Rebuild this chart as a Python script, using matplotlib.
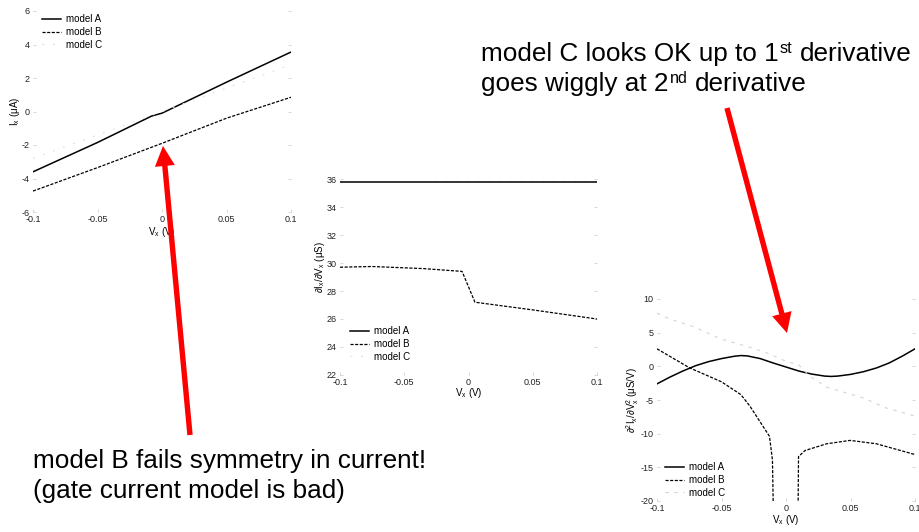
import matplotlib
matplotlib.use("Agg")
import matplotlib.pyplot as plt

plt.rcParams['font.family'] = ['Liberation Sans', 'DejaVu Sans']
plt.rcParams['mathtext.fontset'] = 'custom'
plt.rcParams['mathtext.rm'] = 'Liberation Sans'
plt.rcParams['mathtext.it'] = 'Liberation Sans:italic'
plt.rcParams['axes.unicode_minus'] = False

W, H = 919, 532

# ---- data ----
# current I_x (uA)
vx_i_a = [-0.1, -0.05, -0.008, 0.0, 0.05, 0.1]
ix_a = [-3.6, -1.85, -0.27, -0.1, 1.75, 3.55]
vx_i_b = [-0.1, -0.05, 0.0, 0.05, 0.1]
ix_b = [-4.75, -3.35, -1.9, -0.4, 0.85]
vx_i_c = [-0.1, -0.05, 0.0, 0.05, 0.1]
ix_c = [-2.8, -1.4, 0.0, 1.4, 2.8]

# first derivative (uS)
vx_g_a = [-0.1, -0.035, 0.035, 0.1]
g_a = [35.8, 35.8, 35.8, 35.8]
vx_g_b = [-0.1, -0.075, -0.035, -0.005, 0.005, 0.05, 0.1]
g_b = [29.7, 29.75, 29.6, 29.4, 27.2, 26.65, 26.0]
vx_g_c = [-0.1, 0.1]
g_c = [35.85, 35.85]

# second derivative (uS/V)
vx_d_a = [-0.1, -0.09, -0.08, -0.07, -0.06, -0.05, -0.04, -0.035, -0.03, -0.02, -0.01,
          0.0, 0.01, 0.02, 0.03, 0.035, 0.04, 0.05, 0.06, 0.07, 0.08, 0.09, 0.1]
d_a = [-2.6, -1.6, -0.7, 0.1, 0.7, 1.15, 1.5, 1.6, 1.55, 1.15, 0.5,
       -0.1, -0.7, -1.15, -1.45, -1.5, -1.45, -1.2, -0.8, -0.25, 0.5, 1.5, 2.6]
vx_d_b_left = [-0.1, -0.075, -0.05, -0.035, -0.028, -0.0128, -0.0105, -0.0095]
d_b_left = [2.6, -0.2, -2.3, -4.2, -5.9, -10.4, -13.9, -25.0]
vx_d_b_right = [0.0092, 0.0097, 0.0148, 0.0316, 0.0497, 0.070, 0.1]
d_b_right = [-25.0, -13.4, -12.5, -11.5, -11.0, -11.5, -13.1]
vx_d_c = [-0.1, -0.0897, -0.0716, -0.051, -0.0277, -0.0148, 0.0006, 0.0097,
          0.0187, 0.0316, 0.06, 0.078, 0.1]
d_c = [7.9, 7.0, 5.9, 4.1, 2.8, 2.0, 0.7, 0.25, -1.5, -3.1, -4.7, -6.2, -7.4]

xticks = [-0.1, -0.05, 0, 0.05, 0.1]
xtick_labels = ['-0.1', '-0.05', '0', '0.05', '0.1']
models = ['model A', 'model B', 'model C']

fig = plt.figure(figsize=(W / 100, H / 100), dpi=100)


def px_axes(left, right, top, bottom):
    return fig.add_axes([left / W, 1 - bottom / H, (right - left) / W, (bottom - top) / H])


def style(ax, ylim, yticks):
    ax.set_xlim(-0.1, 0.1)
    ax.set_ylim(*ylim)
    ax.set_xticks(xticks)
    ax.set_xticklabels(xtick_labels)
    ax.set_yticks(yticks)
    for s in ax.spines.values():
        s.set_visible(False)
    ax.tick_params(direction='in', length=2, width=0.5, color='#c8c8c8',
                   labelsize=6.5, labelcolor='#222222', pad=2.5,
                   left=True, right=True, bottom=True, top=False)


A_KW = dict(color='black', lw=1.1)
B_KW = dict(color='black', lw=0.9, ls=(0, (2.5, 1.2)))
C1_KW = dict(color='#e2e2e2', lw=0.9, ls=(0, (1.5, 7)))
C3_KW = dict(color='#d4d4d4', lw=0.8, ls=(0, (3, 5)))

# ---- plot 1: current ----
ax1 = px_axes(33, 291, 11, 212)
ax1.plot(vx_i_a, ix_a, **A_KW)
ax1.plot(vx_i_b, ix_b, **B_KW)
ax1.plot(vx_i_c, ix_c, **C1_KW)
style(ax1, (-6, 6), range(-6, 7, 2))
ax1.legend(models, loc='upper left', bbox_to_anchor=(0.035, 0.985), frameon=False,
           fontsize=7, handlelength=2.0, handletextpad=0.5, labelspacing=0.3,
           borderpad=0, borderaxespad=0)
ax1.text(-0.07, 0.5, 'I$_{\\rm x}$ (μA)', transform=ax1.transAxes, rotation=90,
         ha='center', va='center', fontsize=7)
ax1.text(0.5, -0.1, 'V$_{\\rm x}$ (V)', transform=ax1.transAxes,
         ha='center', va='center', fontsize=7)

# ---- plot 2: first derivative ----
ax2 = px_axes(340, 597, 179, 375)
ax2.plot(vx_g_c, g_c, **C1_KW)
ax2.plot(vx_g_a, g_a, **A_KW)
ax2.plot(vx_g_b, g_b, **B_KW)
style(ax2, (22, 36), range(22, 37, 2))
h2 = ax2.get_lines()
ax2.legend([h2[1], h2[2], h2[0]], models, loc='upper left', bbox_to_anchor=(0.039, 0.25),
           frameon=False, fontsize=7, handlelength=2.0, handletextpad=0.5,
           labelspacing=0.3, borderpad=0, borderaxespad=0)
ax2.text(-0.078, 0.55, '∂I$_{\\rm x}$/∂V$_{\\rm x}$ (μS)', transform=ax2.transAxes,
         rotation=90, ha='center', va='center', fontsize=7)
ax2.text(0.5, -0.093, 'V$_{\\rm x}$ (V)', transform=ax2.transAxes,
         ha='center', va='center', fontsize=7)

# ---- plot 3: second derivative ----
ax3 = px_axes(657, 915, 299, 501)
ax3.plot(vx_d_a, d_a, **A_KW)
ax3.plot(vx_d_b_left, d_b_left, **B_KW)
ax3.plot(vx_d_b_right, d_b_right, **B_KW)
ax3.plot(vx_d_c, d_c, **C3_KW)
style(ax3, (-20, 10), range(-20, 11, 5))
h3 = ax3.get_lines()
ax3.legend([h3[0], h3[1], h3[3]], models, loc='upper left', bbox_to_anchor=(0.031, 0.193),
           frameon=False, fontsize=7, handlelength=2.0, handletextpad=0.5,
           labelspacing=0.3, borderpad=0, borderaxespad=0)
ax3.text(-0.093, 0.5, '∂$^{\\rm 2}$I$_{\\rm x}$/∂V$_{\\rm x}^{\\rm 2}$ (μS/V)',
         transform=ax3.transAxes, rotation=90, ha='center', va='center', fontsize=7)
ax3.text(0.5, -0.095, 'V$_{\\rm x}$ (V)', transform=ax3.transAxes,
         ha='center', va='center', fontsize=7)

# ---- annotations ----
FS = 18.8
renderer = fig.canvas.get_renderer()


def put(x, y, s, size):
    t = fig.text(x / W, 1 - y / H, s, fontsize=size, ha='left', va='baseline')
    return t.get_window_extent(renderer).width


def line_with_sup(x, y, before, sup, after):
    em = FS * 100 / 72
    w = put(x, y, before, FS)
    x2 = x + w + 1
    w2 = put(x2, y - 0.31 * em, sup, FS * 0.62)
    put(x2 + w2 + 0.278 * em, y, after, FS)


line_with_sup(481, 61, 'model C looks OK up to 1', 'st', 'derivative')
line_with_sup(481, 91, 'goes wiggly at 2', 'nd', 'derivative')
put(33, 468, 'model B fails symmetry in current!', FS)
put(33, 498, '(gate current model is bad)', FS)

arrow_kw = dict(arrowstyle='simple,head_length=1.0,head_width=1.0,tail_width=0.27',
                color='#ff0000', mutation_scale=14.4, shrinkA=0, shrinkB=0, lw=0)
ax1.annotate('', xy=(163, H - 146), xytext=(190, H - 435), xycoords='figure pixels',
             textcoords='figure pixels', arrowprops=arrow_kw, annotation_clip=False)
ax3.annotate('', xy=(787, H - 333), xytext=(727, H - 108), xycoords='figure pixels',
             textcoords='figure pixels', arrowprops=arrow_kw, annotation_clip=False)

fig.savefig('out.png', dpi=100)
